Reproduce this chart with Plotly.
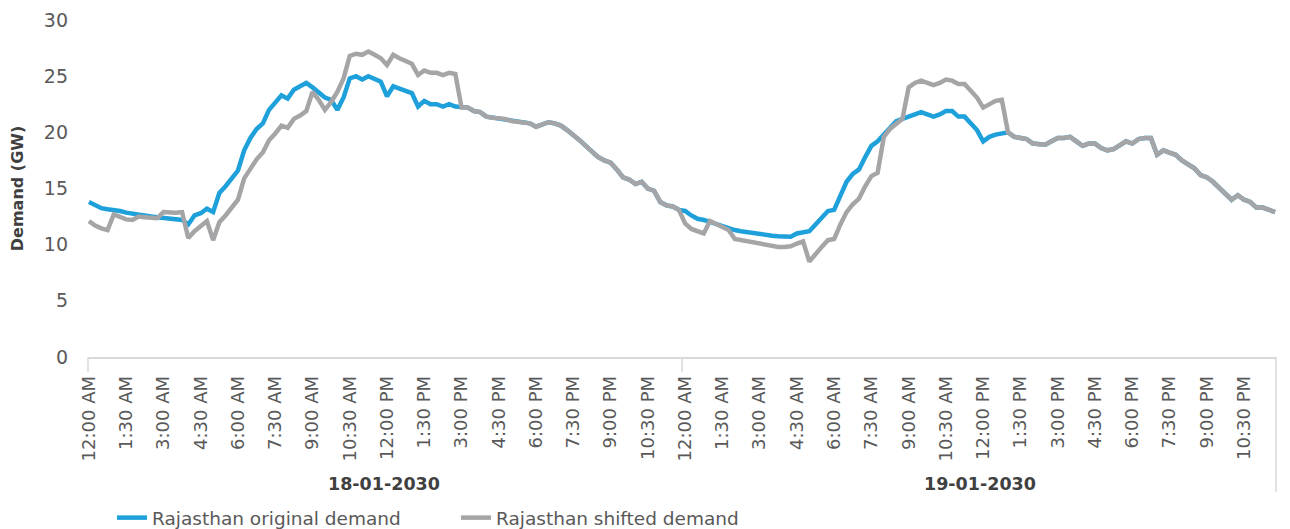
import plotly.graph_objects as go

# ---------------- data (15-minute intervals, GW) ----------------
dates = ["18-01-2030", "19-01-2030"]
time_labels = ["12:00 AM", "1:30 AM", "3:00 AM", "4:30 AM", "6:00 AM", "7:30 AM",
               "9:00 AM", "10:30 AM", "12:00 PM", "1:30 PM", "3:00 PM", "4:30 PM",
               "6:00 PM", "7:30 PM", "9:00 PM", "10:30 PM"]
points_per_label = 6  # 1.5 h at 15-minute resolution

original_day1 = [
    13.8, 13.5, 13.25, 13.15, 13.1, 13.0, 12.85, 12.75, 12.7, 12.6, 12.5, 12.45, 12.4, 12.3, 12.25, 12.2,
    11.8, 12.6, 12.8, 13.2, 12.9, 14.6, 15.2, 15.9, 16.6,
    18.4, 19.5, 20.3, 20.8, 22.0, 22.6, 23.3, 23.0, 23.8, 24.1, 24.4,
    24.0, 23.5, 23.1, 22.9, 22.0, 23.1, 24.8, 25.0, 24.7, 25.0, 24.8, 24.5,
    23.2, 24.1, 23.9, 23.7, 23.5, 22.3, 22.8, 22.5, 22.5, 22.3, 22.5, 22.3,
    22.2, 22.2, 21.9, 21.8, 21.4, 21.3, 21.3, 21.2, 21.0, 20.9, 20.85, 20.8,
    20.5, 20.7, 20.9, 20.8, 20.6, 20.2, 19.8, 19.3, 18.8, 18.3, 17.8, 17.5,
    17.3, 16.7, 16.0, 15.8, 15.4, 15.6, 15.0, 14.8, 13.8, 13.5, 13.4, 13.1,
]
original_day2 = [
    13.0, 12.6, 12.3, 12.2, 12.0, 11.8, 11.6, 11.5, 11.3, 11.2, 11.1, 11.0,
    10.9, 10.85, 10.8, 10.75, 10.7, 10.7, 11.0, 11.1, 11.2, 11.8, 12.4, 13.0,
    13.1, 14.3, 15.6, 16.3, 16.7, 17.8, 18.8, 19.2, 19.8, 20.4, 21.0, 21.2,
    21.4, 21.7, 21.8, 21.6, 21.4, 21.6, 21.9, 21.9, 21.4, 21.4, 20.8, 20.2,
    19.2, 19.6, 19.8, 19.9,
    20.0, 19.6, 19.5, 19.4, 19.0, 18.9, 18.9, 19.2, 19.5, 19.5, 19.6, 19.2,
    18.8, 19.0, 19.0, 18.6, 18.4, 18.5, 18.8, 19.2, 19.0, 19.4, 19.5, 19.5,
    18.0, 18.4, 18.2, 18.0, 17.5, 17.1, 16.8, 16.2, 16.0, 15.6, 15.1, 14.6,
    14.0, 14.4, 14.0, 13.8, 13.3, 13.3, 13.1, 12.9,
]
shifted_day1 = [
    12.1, 11.7, 11.45, 11.3, 12.7, 12.5, 12.25, 12.2, 12.5, 12.45, 12.4, 12.35, 12.9, 12.85, 12.85, 12.9,
    10.6, 11.2, 11.6, 12.1, 10.4, 12.0, 12.6, 13.3, 14.0,
    15.9, 16.8, 17.6, 18.2, 19.3, 19.9, 20.6, 20.4, 21.2, 21.5, 21.9,
    23.6, 22.9, 22.0, 22.7, 23.6, 24.8, 26.8, 27.0, 26.9, 27.2, 26.9, 26.6,
    26.0, 26.9, 26.6, 26.4, 26.1, 25.1, 25.5, 25.3, 25.3, 25.1, 25.3, 25.2,
    22.2, 22.2, 21.9, 21.8, 21.4, 21.3, 21.3, 21.2, 21.0, 20.9, 20.85, 20.8,
    20.5, 20.7, 20.9, 20.8, 20.6, 20.2, 19.8, 19.3, 18.8, 18.3, 17.8, 17.5,
    17.3, 16.7, 16.0, 15.8, 15.4, 15.6, 15.0, 14.8, 13.8, 13.5, 13.4, 13.1,
]
shifted_day2 = [
    11.9, 11.4, 11.2, 11.0, 12.1, 11.8, 11.5, 11.3, 10.5, 10.4, 10.3, 10.2,
    10.0, 9.9, 9.85, 9.8, 9.8, 9.85, 10.1, 10.3, 8.5, 9.2, 9.8, 10.4,
    10.5, 11.8, 12.9, 13.6, 14.1, 15.2, 16.1, 16.4, 19.6, 20.3, 20.8, 21.2,
    24.0, 24.4, 24.6, 24.4, 24.2, 24.4, 24.7, 24.6, 24.3, 24.3, 23.7, 23.1,
    22.2, 22.5, 22.8, 22.9,
    20.0, 19.6, 19.5, 19.4, 19.0, 18.9, 18.9, 19.2, 19.5, 19.5, 19.6, 19.2,
    18.8, 19.0, 19.0, 18.6, 18.4, 18.5, 18.8, 19.2, 19.0, 19.4, 19.5, 19.5,
    18.0, 18.4, 18.2, 18.0, 17.5, 17.1, 16.8, 16.2, 16.0, 15.6, 15.1, 14.6,
    14.0, 14.4, 14.0, 13.8, 13.3, 13.3, 13.1, 12.9,
]

series_names = ["Rajasthan original demand", "Rajasthan shifted demand"]
y_ticks = [0, 5, 10, 15, 20, 25, 30]

# ---------------- build ----------------
original = original_day1 + original_day2
shifted = shifted_day1 + shifted_day2
n_day = len(original_day1)
x = list(range(len(original)))

tick_vals, tick_text = [], []
for d in range(len(dates)):
    for k, lab in enumerate(time_labels):
        tick_vals.append(d * n_day + k * points_per_label)
        tick_text.append(lab)

BLUE = "#1EA0DB"
GREY = "#A5A5A7"
FONT = "DejaVu Sans"
# the page body adds an 8px margin, so the figure is sized to fit the window
W, H = 1282, 521
ML, MR, MT, MB = 80, 14, 12, 172
plot_w = W - ML - MR

fig = go.Figure()
fig.add_trace(go.Scatter(x=x, y=original, mode="lines", name=series_names[0],
                         line=dict(color=BLUE, width=4.5), hoverinfo="skip"))
fig.add_trace(go.Scatter(x=x, y=shifted, mode="lines", name=series_names[1],
                         line=dict(color=GREY, width=4.5), hoverinfo="skip"))

annotations = []
for d, lab in enumerate(dates):
    annotations.append(dict(x=d * n_day + (n_day - 1) / 2, y=-0.377, xref="x", yref="paper",
                            text=f"<b>{lab}</b>", showarrow=False,
                            font=dict(family=FONT, size=17.5, color="#404040"),
                            xanchor="center", yanchor="middle"))

shapes = [
    dict(type="line", xref="paper", yref="paper", x0=0, x1=0, y0=0, y1=-0.045,
         line=dict(color="#D9D9D9", width=1.5)),
    dict(type="line", xref="x", yref="paper", x0=n_day - 0.5, x1=n_day - 0.5, y0=0, y1=-0.045,
         line=dict(color="#D9D9D9", width=1.5)),
    dict(type="line", xref="paper", yref="paper", x0=1, x1=1, y0=0, y1=-0.40,
         line=dict(color="#D9D9D9", width=1.5)),
]

fig.update_layout(
    width=W, height=H,
    margin=dict(l=ML, r=MR, t=MT, b=MB, autoexpand=False),
    paper_bgcolor="white", plot_bgcolor="white",
    font=dict(family=FONT, color="#595959"),
    showlegend=True,
    legend=dict(orientation="h", x=24 / plot_w, xanchor="left",
                y=-0.478, yanchor="middle",
                font=dict(family=FONT, size=18.5, color="#595959"),
                entrywidth=299, entrywidthmode="pixels",
                bgcolor="rgba(0,0,0,0)"),
    annotations=annotations,
    shapes=shapes,
)
fig.update_xaxes(range=[-0.15, len(x) - 1 + 0.15], tickmode="array",
                 tickvals=tick_vals, ticktext=tick_text, tickangle=-90,
                 tickfont=dict(family=FONT, size=18, color="#595959"),
                 ticklabelstandoff=10,
                 showgrid=False, zeroline=False, showline=True,
                 linecolor="#D9D9D9", linewidth=1.5, ticks="", automargin=False)
fig.update_yaxes(range=[0, 30], tickmode="array", tickvals=y_ticks,
                 tickfont=dict(family=FONT, size=19, color="#595959"),
                 showgrid=False, zeroline=False, showline=False, ticks="",
                 ticklabelstandoff=19, automargin=False,
                 title=dict(text="<b>Demand (GW)</b>", standoff=25,
                            font=dict(family=FONT, size=16, color="#404040")))

fig.write_html("out.html")
